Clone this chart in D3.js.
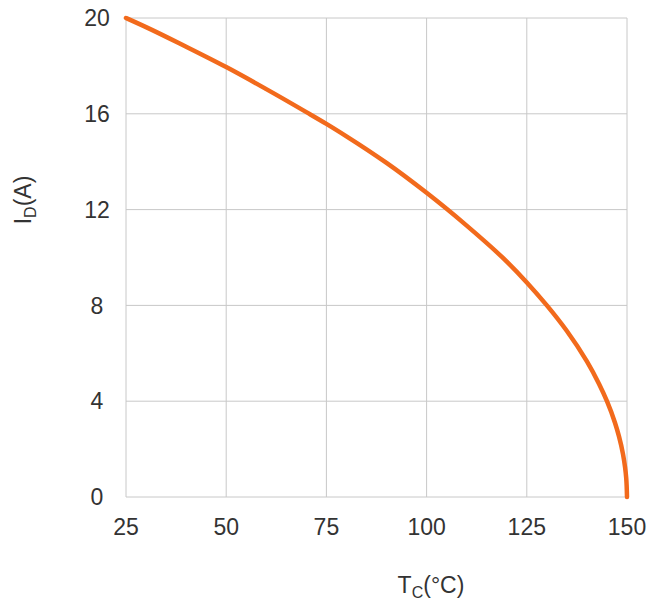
<!DOCTYPE html>
<html>
<head>
<meta charset="utf-8">
<script src="https://cdn.jsdelivr.net/npm/d3@7"></script>
<style>
  html, body { margin: 0; padding: 0; background: #fff; }
  svg { display: block; }
  text { font-family: "Liberation Sans", Arial, sans-serif; fill: #333; }
</style>
</head>
<body>
<svg id="chart" width="649" height="609"></svg>
<script>
// Data
const tempC = [25, 30, 40, 50, 60, 70, 75, 80, 90, 100, 110, 120, 125, 130, 135, 140, 143, 145, 147, 148, 149, 149.5, 149.8, 150];
const currentA = [20, 19.62, 18.8, 17.95, 17.03, 16.07, 15.58, 15.06, 13.95, 12.7, 11.33, 9.83, 8.96, 8.0, 6.93, 5.66, 4.73, 4.0, 3.1, 2.53, 1.79, 1.26, 0.8, 0];
const xTicks = [25, 50, 75, 100, 125, 150];
const yTicks = [0, 4, 8, 12, 16, 20];

const svg = d3.select("#chart");
const plotL = 126, plotR = 627, plotT = 18, plotB = 497;

const x = d3.scaleLinear().domain([25, 150]).range([plotL, plotR]);
const y = d3.scaleLinear().domain([0, 20]).range([plotB, plotT]);

// Gridlines
const grid = svg.append("g");
grid.selectAll("line.v").data(xTicks).enter().append("line")
  .attr("x1", d => x(d)).attr("x2", d => x(d))
  .attr("y1", plotT).attr("y2", plotB)
  .attr("stroke", "#c8c8c8").attr("stroke-width", 1);
grid.selectAll("line.h").data(yTicks).enter().append("line")
  .attr("x1", plotL).attr("x2", plotR)
  .attr("y1", d => y(d)).attr("y2", d => y(d))
  .attr("stroke", "#c8c8c8").attr("stroke-width", 1);

// Tick labels
svg.append("g").selectAll("text").data(yTicks).enter().append("text")
  .attr("x", 97).attr("y", d => y(d))
  .attr("dy", "0.36em")
  .attr("text-anchor", "middle")
  .attr("font-size", 23)
  .text(d => d);

svg.append("g").selectAll("text").data(xTicks).enter().append("text")
  .attr("x", d => x(d)).attr("y", 535)
  .attr("text-anchor", "middle")
  .attr("font-size", 23)
  .text(d => d);

// Curve
const line = d3.line().x((d, i) => x(tempC[i])).y(d => y(d)).curve(d3.curveMonotoneY);
svg.append("path")
  .datum(currentA)
  .attr("d", line)
  .attr("fill", "none")
  .attr("stroke", "#f26a1c")
  .attr("stroke-width", 4.5)
  .attr("stroke-linecap", "round");

// Axis titles
const yt = svg.append("text")
  .attr("transform", "translate(31,200) rotate(-90)")
  .attr("text-anchor", "middle")
  .attr("font-size", 23);
yt.append("tspan").text("I");
yt.append("tspan").attr("font-size", 16).attr("dy", 5).text("D");
yt.append("tspan").attr("dy", -5).text("(A)");

const xt = svg.append("text")
  .attr("x", 431).attr("y", 593)
  .attr("text-anchor", "middle")
  .attr("font-size", 23);
xt.append("tspan").text("T");
xt.append("tspan").attr("font-size", 16).attr("dy", 5).text("C");
xt.append("tspan").attr("dy", -5).text("(°C)");
</script>
</body>
</html>
